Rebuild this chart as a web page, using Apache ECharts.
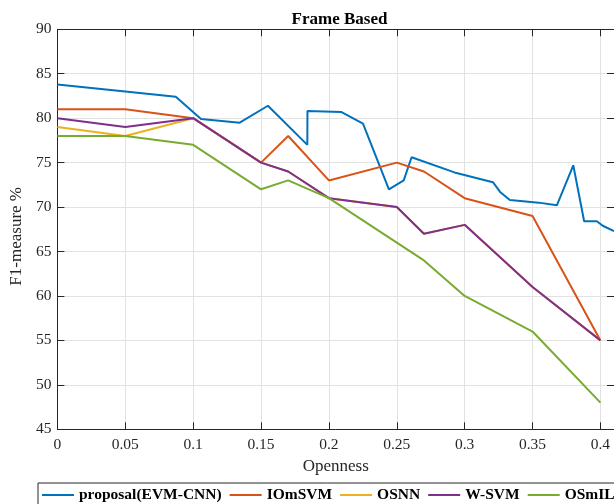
<!DOCTYPE html>
<html>
<head>
<meta charset="utf-8">
<script src="https://cdn.jsdelivr.net/npm/echarts@6/dist/echarts.min.js"></script>
<style>
html,body{margin:0;padding:0;background:#fff;}
#chart{width:614px;height:504px;}
</style>
</head>
<body>
<div id="chart"></div>
<script>
// ---- data ----
const seriesNames = ['proposal(EVM-CNN)', 'IOmSVM', 'OSNN', 'W-SVM', 'OSmIL'];
const opennessStd = [0, 0.05, 0.1, 0.15, 0.17, 0.2, 0.25, 0.27, 0.3, 0.35, 0.4];
const proposalX = [0, 0.05, 0.0872, 0.1058, 0.1343, 0.1551, 0.1841, 0.1842, 0.209, 0.2251, 0.2442, 0.2551, 0.2609, 0.2925, 0.3208, 0.3261, 0.3333, 0.3546, 0.3679, 0.38, 0.388, 0.3974, 0.4017, 0.41];
const proposalY = [83.8, 83.0, 82.4, 79.9, 79.5, 81.4, 77.0, 80.8, 80.7, 79.4, 72.0, 73.0, 75.6, 73.9, 72.8, 71.7, 70.8, 70.5, 70.2, 74.7, 68.4, 68.4, 67.9, 67.3];
const iomsvmY = [81, 81, 80, 75, 78, 73, 75, 74, 71, 69, 55];
const osnnY = [79, 78, 80, 75, 74, 71, 70, 67, 68, 61, 55];
const wsvmY = [80, 79, 80, 75, 74, 71, 70, 67, 68, 61, 55];
const osmilY = [78, 78, 77, 72, 73, 71, 66, 64, 60, 56, 48];
const xTicks = [0, 0.05, 0.1, 0.15, 0.2, 0.25, 0.3, 0.35, 0.4];
const yTicks = [45, 50, 55, 60, 65, 70, 75, 80, 85, 90];
const colors = ['#0072BD', '#D95319', '#EDB120', '#7E2F8E', '#77AC30'];

const FONT = 'Liberation Serif';
const zip = (xs, ys) => xs.map((x, i) => [x, ys[i]]);
const seriesData = [
  zip(proposalX, proposalY),
  zip(opennessStd, iomsvmY),
  zip(opennessStd, osnnY),
  zip(opennessStd, wsvmY),
  zip(opennessStd, osmilY)
];

const axisColor = '#262626';
const gridColor = '#e2e2e2';
const xMin = 0, xMax = 0.41, xInt = 0.05;
const yMin = yTicks[0], yMax = yTicks[yTicks.length - 1], yInt = 5;

const chart = echarts.init(document.getElementById('chart'), null, {renderer: 'canvas'});
chart.setOption({
  animation: false,
  backgroundColor: '#fff',
  color: colors,
  title: {
    text: 'Frame Based',
    left: 334.5, top: 6, textAlign: 'center',
    textStyle: {fontFamily: FONT, fontWeight: 'bold', fontSize: 17, color: '#000'}
  },
  grid: {left: 52.3, top: 29.3, width: 565.8, height: 400, containLabel: false},
  legend: {
    data: seriesNames,
    left: 38, top: 483, width: 1000,
    orient: 'horizontal',
    icon: 'rect', itemWidth: 32, itemHeight: 2, itemGap: 8,
    padding: [4, 4, 10, 4],
    borderColor: axisColor, borderWidth: 1,
    textStyle: {fontFamily: FONT, fontWeight: 'bold', fontSize: 15.5, color: '#000'}
  },
  xAxis: [{
    type: 'value', position: 'bottom', min: xMin, max: xMax, interval: xInt,
    name: 'Openness', nameLocation: 'middle', nameGap: 27,
    nameTextStyle: {fontFamily: FONT, fontSize: 17, color: axisColor},
    axisLine: {show: true, lineStyle: {color: axisColor, width: 1}},
    axisTick: {show: true, inside: true, length: 7, lineStyle: {color: axisColor}},
    axisLabel: {fontFamily: FONT, fontSize: 15.5, color: axisColor, margin: 8, showMaxLabel: false,
      formatter: v => xTicks.includes(+v.toFixed(2)) ? String(+v.toFixed(2)) : ''},
    splitLine: {show: true, lineStyle: {color: gridColor, width: 1}}
  }, {
    type: 'value', position: 'top', min: xMin, max: xMax, interval: xInt,
    axisLine: {show: true, onZero: false, lineStyle: {color: axisColor, width: 1}},
    axisTick: {show: true, inside: true, length: 7, lineStyle: {color: axisColor}},
    axisLabel: {show: false},
    splitLine: {show: false}
  }],
  yAxis: [{
    type: 'value', position: 'left', min: yMin, max: yMax, interval: yInt,
    name: 'F1-measure %', nameLocation: 'middle', nameGap: 32, nameRotate: 90,
    nameTextStyle: {fontFamily: FONT, fontSize: 17, color: axisColor, padding: [0, 14, 0, 0]},
    axisLine: {show: true, lineStyle: {color: axisColor, width: 1}},
    axisTick: {show: true, inside: true, length: 7, lineStyle: {color: axisColor}},
    axisLabel: {fontFamily: FONT, fontSize: 15.5, color: axisColor, margin: 6},
    splitLine: {show: true, lineStyle: {color: gridColor, width: 1}}
  }, {
    type: 'value', position: 'right', min: yMin, max: yMax, interval: yInt,
    axisLine: {show: true, onZero: false, lineStyle: {color: axisColor, width: 1}},
    axisTick: {show: true, inside: true, length: 7, lineStyle: {color: axisColor}},
    axisLabel: {show: false},
    splitLine: {show: false}
  }],
  series: seriesNames.map((name, i) => ({
    name, type: 'line', data: seriesData[i],
    xAxisIndex: 0, yAxisIndex: 0,
    symbol: 'none', showSymbol: false,
    lineStyle: {width: 2, color: colors[i]},
    itemStyle: {color: colors[i]},
    z: 2 + i
  }))
});
</script>
</body>
</html>
